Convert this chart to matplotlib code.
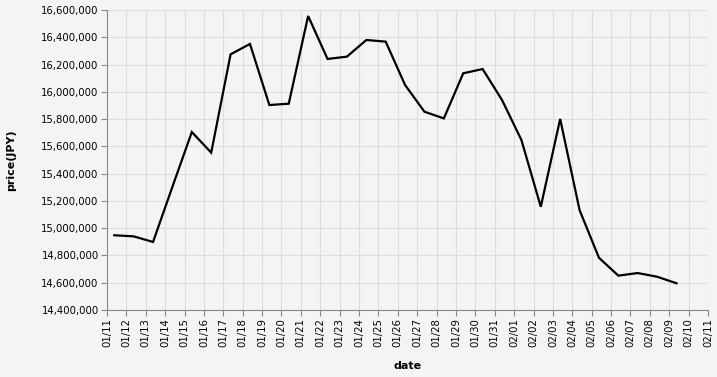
import matplotlib
matplotlib.use("Agg")
import matplotlib.pyplot as plt
import matplotlib.dates as mdates
import matplotlib.ticker as mticker
import pandas as pd

start_date = "2021-01-11 09:00"
prices = [14948000, 14940000, 14899000, 15304000, 15705000, 15554000, 16275000,
          16351000, 15903000, 15913000, 16556000, 16241000, 16258000, 16380000,
          16368000, 16050000, 15854000, 15805000, 16136000, 16167000, 15940000,
          15647000, 15157000, 15801000, 15133000, 14783000, 14652000, 14671000,
          14644000, 14596000]
dates = pd.date_range(start_date, periods=len(prices), freq="D")
x_range = ("2021-01-11", "2021-02-11")
y_range = (14400000, 16600000)
y_step = 200000

bg = "#f4f4f4"
fig = plt.figure(figsize=(7.17, 3.77), dpi=100, facecolor=bg)
ax = fig.add_axes([107/717, 1-310/377, 601/717, 300/377])
ax.set_facecolor(bg)

ax.plot(dates, prices, color="black", lw=1.6, solid_joinstyle="miter")

ax.set_xlim(pd.Timestamp(x_range[0]), pd.Timestamp(x_range[1]))
ax.set_ylim(*y_range)
ax.yaxis.set_major_locator(mticker.MultipleLocator(y_step))
ax.yaxis.set_major_formatter(mticker.FuncFormatter(lambda v, p: f"{int(round(v)):,}"))
ax.xaxis.set_major_locator(mdates.DayLocator())
ax.xaxis.set_major_formatter(mdates.DateFormatter("%m/%d"))

ax.grid(True, color="#dddddd", lw=0.8)
ax.set_axisbelow(True)
for s in ["top", "right"]:
    ax.spines[s].set_visible(False)
for s in ["left", "bottom"]:
    ax.spines[s].set_color("#888888")
    ax.spines[s].set_linewidth(0.8)

ax.tick_params(axis="both", colors="#888888", length=4, width=0.8, labelsize=7.3, labelcolor="#000000")
plt.setp(ax.get_xticklabels(), rotation=90)
ax.tick_params(axis="x", pad=2)
ax.tick_params(axis="y", pad=2)

ax.set_xlabel("date", fontsize=8, fontweight="bold", labelpad=10)
ax.set_ylabel("price(JPY)", fontsize=8, fontweight="bold", labelpad=18)

fig.savefig("out.png", dpi=100, facecolor=bg)
